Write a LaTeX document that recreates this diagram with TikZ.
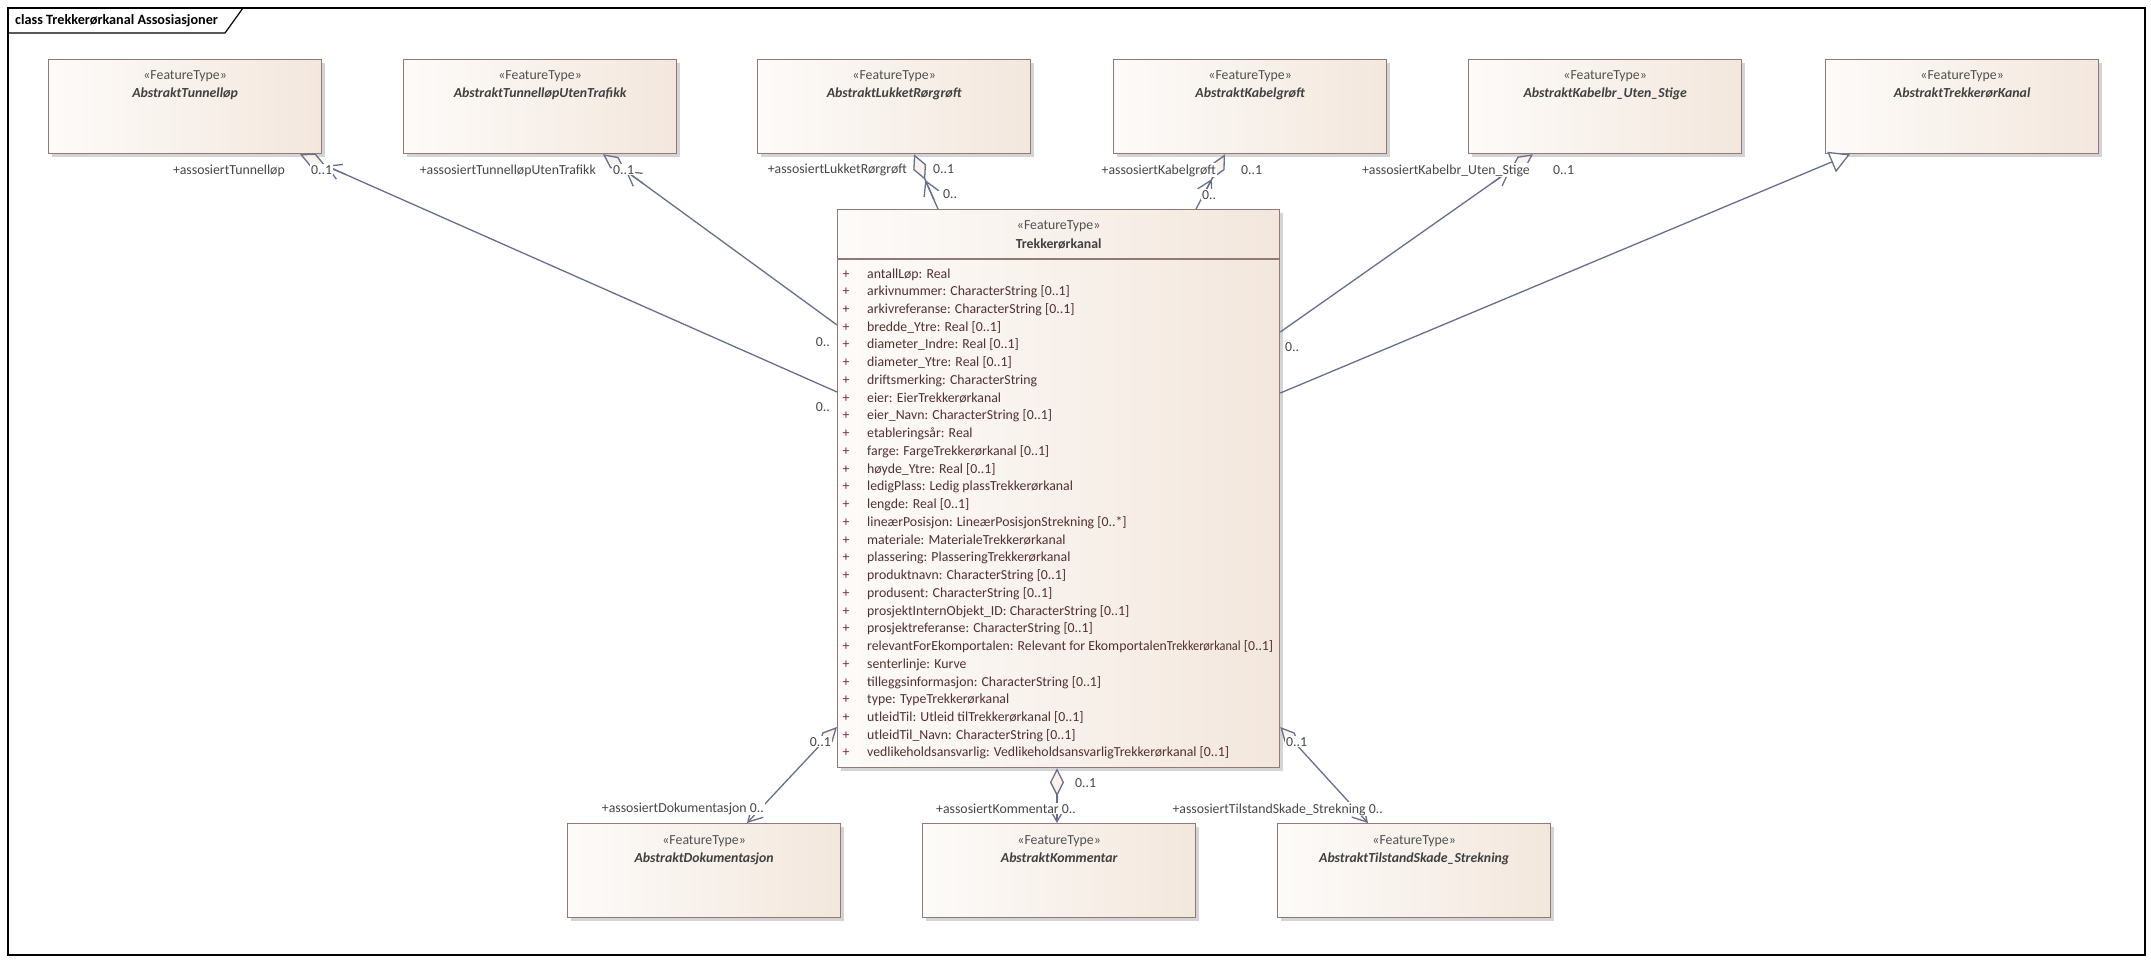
\documentclass[tikz,border=0pt]{standalone}
\usepackage{fontspec}
\setmainfont{Carlito}
\usetikzlibrary{arrows.meta,calc}
\definecolor{boxline}{RGB}{145,122,117}
\definecolor{boxL}{RGB}{253,251,249}
\definecolor{boxR}{RGB}{243,231,221}
\definecolor{shadowc}{RGB}{212,212,212}
\definecolor{connc}{RGB}{102,112,140}
\definecolor{stereoc}{RGB}{80,80,80}
\definecolor{namec}{RGB}{64,64,64}
\definecolor{attrc}{RGB}{82,48,48}
\definecolor{plusc}{RGB}{130,40,70}
\definecolor{labc}{RGB}{70,70,70}
\definecolor{diafill}{RGB}{251,242,238}
\newlength\relA
\newlength\relB
\newcommand\relline{\settowidth\relA{relevantForEkomportalen: Relevant for Ekomportalen}\settowidth\relB{ [0..1]}relevantForEkomportalen: Relevant for Ekomportalen\resizebox{\dimexpr 406pt-\relA-\relB\relax}{\height}{Trekkerørkanal} [0..1]}
\tikzset{
  umlDia/.tip={Diamond[fill=diafill,length=28pt,width=14pt]},
  umlBarb/.tip={Straight Barb[length=14pt,width=16pt]},
  umlGen/.tip={Triangle[fill=white,length=20pt,width=22pt]},
}
\begin{document}
\begin{tikzpicture}[x=1pt,y=-1pt,
  txt/.style={font=\fontsize{13.8}{16}\selectfont},
  box/.style={draw=boxline,line width=1.3pt,left color=boxL,right color=boxR,
    minimum width=273pt,minimum height=94pt,anchor=north west,inner sep=0pt,
    preaction={fill=shadowc,transform canvas={shift={(3pt,-3pt)}}}},
  stereo/.style={txt,text=stereoc,inner sep=0pt,anchor=base},
  cname/.style={txt,font=\fontsize{13.8}{16}\selectfont\bfseries\itshape,text=namec,inner sep=0pt,anchor=base},
  mname/.style={txt,font=\fontsize{13.8}{16}\selectfont\bfseries,text=namec,inner sep=0pt,anchor=base},
  attr/.style={txt,text=attrc,inner sep=0pt,anchor=base west},
  plus/.style={txt,text=plusc,inner sep=0pt,anchor=base},
  conn/.style={draw=connc,line width=1.3pt},
  lab/.style={txt,text=labc,fill=white,inner sep=1pt},
  lw/.style={lab,anchor=base west},
  le/.style={lab,anchor=base east},
  sepline/.style={draw=boxline,line width=1.3pt},
]
\useasboundingbox (0,0) rectangle (2151,963);
\fill[white] (0,0) rectangle (2151,963);
% frame
\draw[line width=1.2pt] (8,8) rectangle (2145,955);
\draw[line width=1.2pt] (8,33) -- (225,33) -- (243,8);
\node[txt,font=\fontsize{14.2}{16}\selectfont\bfseries,anchor=base west,inner sep=0pt] (title) at (15,25) {class Trekkerørkanal Assosiasjoner};

% boxes
\node[box] (tun) at (48,59) {};
\node[box] (utt) at (403,59) {};
\node[box] (luk) at (757,59) {};
\node[box] (kab) at (1113,59) {};
\node[box] (kbr) at (1468,59) {};
\node[box] (tkk) at (1825,59) {};
\node[box] (dok) at (567,823) {};
\node[box] (kom) at (922,823) {};
\node[box] (til) at (1277,823) {};
\node[box,minimum width=442pt,minimum height=558pt] (trk) at (837,209) {};

\foreach \n/\t in {tun/AbstraktTunnelløp,utt/AbstraktTunnelløpUtenTrafikk,luk/AbstraktLukketRørgrøft,kab/AbstraktKabelgrøft,kbr/AbstraktKabelbr\_Uten\_Stige,tkk/AbstraktTrekkerørKanal,dok/AbstraktDokumentasjon,kom/AbstraktKommentar,til/AbstraktTilstandSkade\_Strekning}{
  \node[stereo] (\n-s) at ($(\n.north)+(0,21)$) {«FeatureType»};
  \node[cname] (\n-n) at ($(\n.north)+(0,39)$) {\t};
}
\node[stereo] (trk-s) at ($(trk.north)+(0,20)$) {«FeatureType»};
\node[mname] (trk-n) at ($(trk.north)+(0,39)$) {Trekkerørkanal};
\draw[sepline] ($(trk.north west)+(0,50)$) -- ($(trk.north east)+(0,50)$);

\foreach \t [count=\i] in {
 {antallLøp: Real},
 {arkivnummer: CharacterString [0..1]},
 {arkivreferanse: CharacterString [0..1]},
 {bredde\_Ytre: Real [0..1]},
 {diameter\_Indre: Real [0..1]},
 {diameter\_Ytre: Real [0..1]},
 {driftsmerking: CharacterString},
 {eier: EierTrekkerørkanal},
 {eier\_Navn: CharacterString [0..1]},
 {etableringsår: Real},
 {farge: FargeTrekkerørkanal [0..1]},
 {høyde\_Ytre: Real [0..1]},
 {ledigPlass: Ledig plassTrekkerørkanal},
 {lengde: Real [0..1]},
 {lineærPosisjon: LineærPosisjonStrekning [0..*]},
 {materiale: MaterialeTrekkerørkanal},
 {plassering: PlasseringTrekkerørkanal},
 {produktnavn: CharacterString [0..1]},
 {produsent: CharacterString [0..1]},
 {prosjektInternObjekt\_ID: CharacterString [0..1]},
 {prosjektreferanse: CharacterString [0..1]},
 {\relline},
 {senterlinje: Kurve},
 {tilleggsinformasjon: CharacterString [0..1]},
 {type: TypeTrekkerørkanal},
 {utleidTil: Utleid tilTrekkerørkanal [0..1]},
 {utleidTil\_Navn: CharacterString [0..1]},
 {vedlikeholdsansvarlig: VedlikeholdsansvarligTrekkerørkanal [0..1]}}{
  \node[plus] (p\i) at ($(trk.north west)+(9,{69+17.74*(\i-1)})$) {+};
  \node[attr] (a\i) at ($(trk.north west)+(30,{69+17.74*(\i-1)})$) {\t};
}

% connector end points
\coordinate (t1) at ($(tun.south west)+(252,0)$);
\coordinate (m1) at ($(trk.north west)+(0,183)$);
\coordinate (t2) at ($(utt.south west)+(200,0)$);
\coordinate (m2) at ($(trk.north west)+(0,116)$);
\coordinate (t3) at ($(luk.south west)+(157,0)$);
\coordinate (m3) at ($(trk.north west)+(101,0)$);
\coordinate (t4) at ($(kab.south west)+(112,0)$);
\coordinate (m4) at ($(trk.north west)+(359,0)$);
\coordinate (t5) at ($(kbr.south west)+(65,0)$);
\coordinate (m5) at ($(trk.north east)+(0,123)$);
\coordinate (t6) at ($(tkk.south west)+(25,0)$);
\coordinate (m6) at ($(trk.north east)+(0,184)$);
\coordinate (m7) at ($(trk.north west)+(0,518)$);
\coordinate (b7) at ($(dok.north west)+(180,0)$);
\coordinate (m8) at ($(trk.south west)+(220,0)$);
\coordinate (b8) at ($(kom.north west)+(135,0)$);
\coordinate (m9) at ($(trk.north east)+(0,518)$);
\coordinate (b9) at ($(til.north west)+(91,0)$);

\foreach \k in {1,...,5}{
  \draw[conn,{umlDia}-] (t\k) -- (m\k);
  \draw[conn,-{umlBarb}] ($(t\k)!50pt!(m\k)$) -- ($(t\k)!28pt!(m\k)$);
}
\draw[conn,-{umlGen}] (m6) -- (t6);
\draw[conn,{umlDia}-{umlBarb}] (m7) -- (b7);
\draw[conn,{umlDia}-{umlBarb}] (m8) -- (b8);
\draw[conn,{umlDia}-{umlBarb}] (m9) -- (b9);

% labels
\node[le] (l1a) at (286,174) {+assosiertTunnelløp};
\node[lw] (l1b) at (310,174) {0..1};
\node[le] (l1c) at (831,411) {0..};
\node[le] (l2a) at (597,174) {+assosiertTunnelløpUtenTrafikk};
\node[lw] (l2b) at (612,174) {0..1};
\node[le] (l2c) at (831,346) {0..};
\node[le] (l3a) at (908,173) {+assosiertLukketRørgrøft};
\node[lw] (l3b) at (932,173) {0..1};
\node[lw] (l3c) at (942,198) {0..};
\node[le] (l4a) at (1217,174) {+assosiertKabelgrøft};
\node[lw] (l4b) at (1240,174) {0..1};
\node[lw] (l4c) at (1201,199) {0..};
\node[le] (l5a) at (1531,174) {+assosiertKabelbr\_Uten\_Stige};
\node[lw] (l5b) at (1552,174) {0..1};
\node[lw] (l5c) at (1284,351) {0..};
\node[le] (l7a) at (832,746) {0..1};
\node[le] (l7b) at (765,812) {+assosiertDokumentasjon 0..};
\node[lw] (l8a) at (1074,787) {0..1};
\node[le] (l8b) at (1077,813) {+assosiertKommentar 0..};
\node[lw] (l9a) at (1285,746) {0..1};
\node[le] (l9b) at (1384,813) {+assosiertTilstandSkade\_Strekning 0..};
\end{tikzpicture}
\end{document}
